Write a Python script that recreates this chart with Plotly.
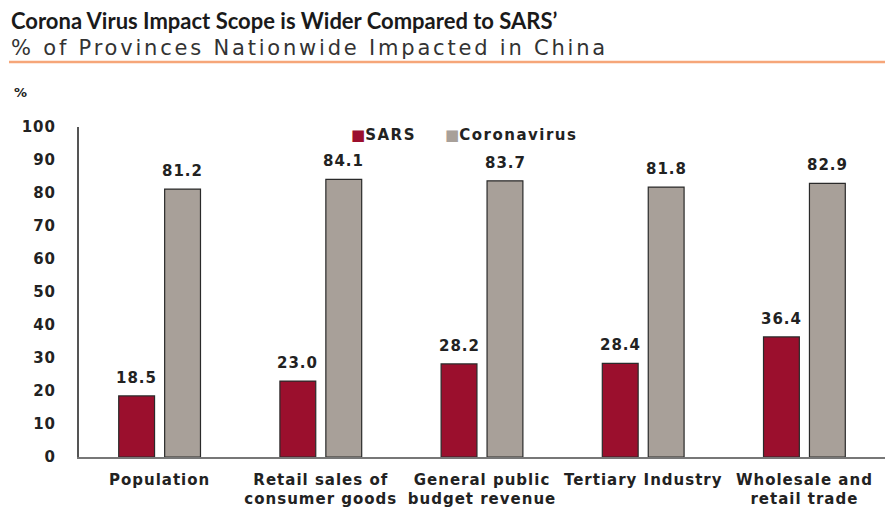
import plotly.graph_objects as go

categories = ["Population", "Retail sales of<br>consumer goods", "General public<br>budget revenue",
              "Tertiary Industry", "Wholesale and<br>retail trade"]
sars = [18.5, 23.0, 28.2, 28.4, 36.4]
corona = [81.2, 84.1, 83.7, 81.8, 82.9]
series_names = ["SARS", "Coronavirus"]
colors = ["#9B0F2D", "#A8A099"]
y_ticks = list(range(0, 101, 10))

# plot area in pixels
L, R, T, B = 79, 885, 127, 457
FONT = "DejaVu Sans, Verdana, Arial"


def px_x(p):
    return (p - L) / (R - L)


def px_y(p):
    return (B - p) / (B - T)


def spaced(s, sp=1):
    # the source text is drawn wide, so stretch it a bit
    return f"<span style='letter-spacing:{sp}px'>{s}</span>"


fig = go.Figure()
for name, vals, col in zip(series_names, [sars, corona], colors):
    fig.add_trace(go.Bar(
        x=categories, y=vals, name=name,
        marker=dict(color=col, line=dict(color="#2a2a2a", width=1.2)),
    ))

# value labels above the bars
annotations = []
for vals, shift in [(sars, -23), (corona, 23)]:
    for c, v in zip(categories, vals):
        annotations.append(dict(
            x=c, y=v, text=spaced(f"{v:.1f}"), xshift=shift, yshift=7, yanchor="bottom",
            showarrow=False, font=dict(family=FONT, size=15, color="#222", weight="bold")))

# legend drawn as text
for name, col, xpos in zip(series_names, colors, [349, 443]):
    annotations.append(dict(
        text=f"<span style='color:{col}'>■</span>" + spaced(name, 1.5), xref="paper", yref="paper",
        x=px_x(xpos), y=px_y(135), xanchor="left", yanchor="middle", showarrow=False,
        font=dict(family=FONT, size=15, color="#222", weight="bold")))

annotations += [
    dict(text="<b>Corona Virus Impact Scope is Wider Compared to SARS’</b>",
         xref="paper", yref="paper", x=px_x(9), y=px_y(20), xanchor="left", yanchor="middle",
         showarrow=False, font=dict(family="Lato, Open Sans", size=22, color="#1a1a1a")),
    dict(text=spaced("% of Provinces Nationwide Impacted in China", 2.8),
         xref="paper", yref="paper", x=px_x(9), y=px_y(48), xanchor="left", yanchor="middle",
         showarrow=False, font=dict(family=FONT, size=21, color="#333")),
    dict(text="%", xref="paper", yref="paper", x=px_x(12), y=px_y(92), xanchor="left",
         yanchor="middle", showarrow=False, font=dict(family=FONT, size=13, color="#222", weight="bold")),
]

fig.update_layout(
    width=885, height=508,
    margin=dict(l=L, r=885 - R, t=T, b=508 - B),
    plot_bgcolor="white", paper_bgcolor="white",
    barmode="group", bargap=0.43, bargroupgap=0.22,
    font=dict(family=FONT, size=15, color="#222"),
    showlegend=False,
    xaxis=dict(showline=True, linecolor="#777", linewidth=1.5, ticks="", showgrid=False,
               tickvals=categories, ticktext=[spaced(c) for c in categories],
               ticklabelstandoff=8, tickfont=dict(size=15, color="#222", weight="bold")),
    yaxis=dict(range=[0, 100], tickvals=y_ticks, ticktext=[spaced(str(t)) for t in y_ticks],
               showline=True, linecolor="#555", linewidth=2,
               ticks="", showgrid=False, zeroline=False, ticklabelstandoff=18,
               tickfont=dict(size=15, color="#222", weight="bold")),
    annotations=annotations,
    shapes=[
        dict(type="line", xref="paper", yref="paper", x0=px_x(9), x1=px_x(885),
             y0=px_y(62), y1=px_y(62), line=dict(color="#F6A679", width=2.5)),
    ],
)

fig.write_html("out.html", config={"displayModeBar": False},
               post_script="document.body.style.margin='0';")
